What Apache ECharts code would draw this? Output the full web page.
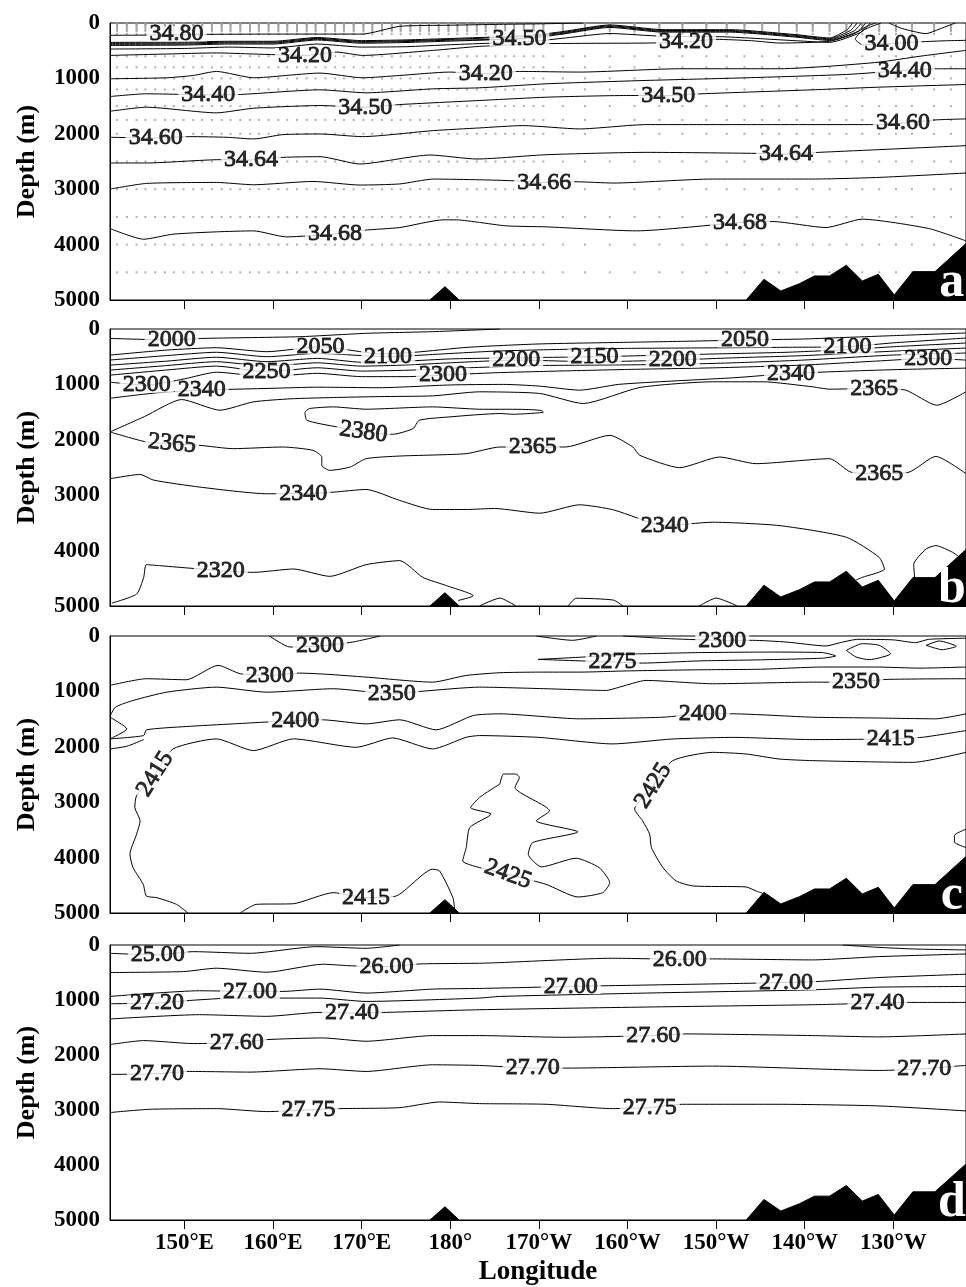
<!DOCTYPE html>
<html><head><meta charset="utf-8">
<script src="https://cdn.jsdelivr.net/npm/echarts@6/dist/echarts.min.js"></script>
<style>html,body{margin:0;padding:0;background:#fff}#c{width:966px;height:1287px}</style>
</head><body><div id="c"></div><script>
// ---------- axes ----------
const LON_MIN = 141.6, LON_MAX = 238.2;
const xTicks = [150,160,170,180,190,200,210,220,230];
const xTickLabels = ['150°E','160°E','170°E','180°','170°W','160°W','150°W','140°W','130°W'];
const depthTicks = [0,1000,2000,3000,4000,5000];
const panelLetters = ['a','b','c','d'];

// ---------- bathymetry (lon, depth) ----------
const bathyMain = [[213.4,5000],[215.4,4626],[217.3,4837],[219.4,4705],[221.1,4566],[222.8,4566],[224.7,4373],[226.5,4656],[228.3,4536],[230.1,4910],[232.2,4488],[234.7,4488],[238.2,3981]];
const bathySeamount = [[177.7,5000],[179.4,4759],[181.0,5000]];

// ---------- station grid (panel a sample dots) ----------
const stationLon = [142.4,143.5,144.6,145.6,146.7,147.8,148.8,149.9,151.0,152.0,153.1,154.2,155.2,156.3,157.4,158.4,159.5,160.6,161.6,162.7,163.8,164.8,165.9,167.0,168.0,169.1,170.2,171.2,172.3,173.4,174.4,175.5,176.6,177.6,178.7,179.8,180.8,181.9,183.0,184.0,185.1,186.2,187.2,188.3,189.4,190.5,192.7,195.2,198.0,200.8,203.6,206.2,208.9,211.2,213.2,215.2,217.1,219.1,220.9,222.8,224.7,226.5,228.4,230.3,232.1,234.6,236.5];
const sampleDepth = [0,10,20,30,50,75,100,125,150,200,600,800,1000,1200,1500,1750,2000,2500,3000,3500,4000,4500];

// ---------- panel a: salinity ----------
const a_3480 = [[141.6,222],[149.1,215],[152.5,205],[161.9,200],[166,200],[170.1,200],[174.3,60],[180,40],[185.6,24],[190,15],[195,0]];
const a_3470 = [[141.6,350],[150,345],[155,330],[160,330],[165,262],[170,318],[175,305],[180,280],[185,252],[189,225],[192.7,155],[198,35],[204,120],[211.5,120],[219,210],[222.8,270],[224.8,120],[225.4,0]];
const a_3460u = [[141.6,367],[150,362],[155,346],[160,346],[165,277],[170,333],[175,320],[180,295],[185,267],[189,240],[192.7,170],[198,50],[204,135],[211.5,135],[219,225],[222.8,285],[225.2,130],[225.9,0]];
const a_3450u = [[141.6,385],[150,380],[155,362],[160,362],[165,292],[170,348],[175,335],[180,310],[187.8,283],[192.7,185],[198,65],[204,150],[211.5,150],[219,240],[222.8,300],[225.6,140],[226.4,0]];
const a_3440u = [[141.6,405],[150,398],[155,380],[160,380],[165,307],[170,365],[175,352],[180,327],[185,302],[189,275],[192.7,200],[198,80],[204,165],[211.5,165],[219,255],[222.8,315],[226,150],[226.9,0]];
const a_3430u = [[141.6,470],[150,460],[155,435],[160,450],[165,380],[170,435],[175,428],[180,392],[185,362],[189,337],[193,270],[198,190],[204,240],[211,250],[219,320],[222.8,350],[226.3,170],[227.4,0]];
const a_3420u = [[141.6,585],[148,560],[153.6,540],[157.8,560],[163.6,585],[167.2,525],[170.1,585],[178.1,494],[183.3,422],[190.9,373],[202.1,362],[206.6,344],[210.0,295],[214,320],[217.2,362],[222.8,330],[225.5,200],[227,60],[228,0]];
const a_3400 = [[228.6,0],[226.6,130],[225.7,290],[226.5,390],[227.8,380],[229.8,373],[233,340],[236,320],[238.2,313]];
const a_extra1 = [[229.5,0],[231,100],[233.7,192],[235.2,110],[236.3,42],[237,0]];
const a_3420l = [[141.6,1007],[148.0,989],[151.0,947],[153.6,874],[157.8,989],[165.3,904],[170.1,989],[174.3,947],[179.9,886],[184.0,916],[187.8,874],[194.6,886],[205.9,826],[217.2,826],[222.8,780],[228.4,706],[233,600],[238.2,494]];
const a_3440l = [[141.6,1327],[145.7,1278],[152.7,1296],[156.3,1290],[165.3,1206],[170.5,1260],[178.1,1188],[183.3,1170],[190.9,1097],[202.1,1037],[213.4,989],[224.7,929],[231.3,856],[234.9,826],[238.2,826]];
const a_3450l = [[141.6,1593],[145.7,1520],[153.6,1622],[157.8,1538],[165.3,1490],[170.4,1520],[174.3,1472],[183.3,1399],[190.9,1339],[199.9,1309],[204.6,1309],[208.3,1278],[220.9,1206],[228.4,1158],[238.2,1110]];
const a_3460l = [[141.6,2063],[146.75,2075],[150.6,2051],[154.8,2063],[157.8,2093],[161.1,2015],[165.3,2003],[170.1,2051],[178.1,1942],[183.3,1894],[188.2,1852],[194.6,1912],[202.1,1834],[213.4,1834],[227.3,1834],[231.1,1808],[234.8,1749],[238.2,1731]];
const a_3464 = [[141.6,2527],[145.7,2527],[154.0,2467],[157.5,2473],[161.1,2425],[165.3,2413],[169.8,2545],[177.7,2383],[183.0,2455],[190.9,2377],[202.1,2335],[214.5,2353],[217.9,2365],[221.6,2335],[228.4,2286],[238.2,2214]];
const a_3466 = [[141.6,2998],[145.7,2896],[153.6,2878],[157.8,2920],[164.5,2860],[169.8,2925],[174.3,2905],[178.1,2817],[183.3,2830],[187.1,2848],[190.6,2878],[194.2,2866],[198.4,2889],[209.6,2817],[220.9,2817],[228.4,2787],[238.2,2708]];
const a_3468 = [[141.6,3710],[145.4,3903],[148.7,3812],[153.6,3770],[157.8,3752],[161.5,3861],[167.0,3806],[170.3,3740],[174.3,3692],[179.2,3553],[180.7,3553],[183.3,3600],[186.3,3662],[190.8,3680],[201.0,3752],[212.7,3602],[216.4,3584],[222.4,3692],[226.5,3541],[234.0,3710],[238.2,3933]];
const a_labels = [['34.80',149.1,200,0],['34.50',187.8,283,0],['34.20',163.6,585,0],['34.20',206.6,344,0],['34.00',229.8,373,0],['34.20',184.0,916,0],['34.40',152.7,1296,0],['34.40',231.3,856,0],['34.50',170.4,1520,0],['34.50',204.6,1309,0],['34.60',146.75,2075,0],['34.60',231.1,1808,0],['34.64',157.5,2473,0],['34.64',217.9,2365,0],['34.66',190.6,2878,0],['34.68',167.0,3806,0],['34.68',212.7,3602,0]];

// ---------- panel b ----------
const b_2000 = [[141.6,170],[148.6,199],[152.1,170],[163,139],[170.5,78],[178,48],[185.6,0]];
const b_2050 = [[141.6,471],[148,380],[153.6,338],[159.3,410],[165.35,320],[168.6,380],[172,450],[176,420],[182,330],[190,270],[200,240],[207,220],[213.27,199],[220,180],[225,150],[230,120],[238.2,72]];
const b_2100 = [[141.6,560],[148,480],[153.6,420],[159.3,500],[165,440],[172.97,501],[178,460],[185,400],[192,370],[200,350],[210,340],[218,330],[224.84,320],[230,250],[238.2,163]];
const b_2150 = [[141.6,652],[148,580],[153.6,510],[159.3,590],[165,530],[170,600],[175,580],[180,540],[187,520],[196.28,501],[202,480],[210,450],[218,420],[225,370],[230,320],[238.2,253]];
const b_2200 = [[141.6,742],[148,660],[153.6,590],[159.3,670],[165,610],[170,670],[175,650],[180,610],[187.45,561],[196,590],[205.11,561],[212,520],[220,480],[225,440],[230,400],[238.2,344]];
const b_2250 = [[141.6,833],[148,740],[153.6,670],[159.27,773],[165,700],[170,760],[176,740],[182,700],[190,660],[198,650],[205,640],[212,610],[220,560],[230,470],[238.2,434]];
const b_2300 = [[141.6,960],[145.74,1014],[150,900],[153.6,780],[159.3,860],[165,800],[170,860],[175,860],[179.18,833],[185,790],[192,760],[200,730],[210,700],[220,650],[228,580],[233.93,531],[238.2,561]];
const b_2340 = [[141.6,1250],[147,1150],[151.94,1104],[155,1090],[160,1070],[165,1050],[172,1060],[180,1010],[186,1000],[190,1030],[194.6,1104],[199,1000],[205,940],[212,880],[218.45,802],[225,760],[231,730],[238.2,706]];
const b_2365u = [[141.6,1859],[145.5,1580],[149.68,1273],[154.0,1466],[157.8,1315],[162,1260],[166.8,1237],[172,1220],[178,1207],[183.3,1134],[190.1,1164],[195,1345],[201.4,1055],[209.6,953],[215.3,953],[220.9,1044],[222.8,1086],[227.85,1074],[231.4,1104],[234.9,1376],[238.2,1134]];
const b_2365l = [[141.6,1859],[145.7,2039],[148.6,2069],[151.75,2100],[155.5,2160],[161.1,2130],[164.5,2190],[165.5,2311],[165.5,2462],[166.4,2552],[168.7,2492],[170.5,2341],[174.3,2293],[181.8,2250],[185.6,2130],[189.3,2130],[193,2130],[198,1919],[200.6,2130],[201.4,2281],[205.9,2503],[210.4,2311],[214.5,2431],[222.8,2341],[225.2,2583],[228.4,2612],[231.8,2583],[234.8,2299],[238.2,2612]];
const b_2380 = [[163.6,1500],[164.1,1436],[166.8,1406],[170.5,1448],[178,1406],[183.3,1448],[188,1450],[190.3,1470],[190.5,1500],[187.1,1539],[185.6,1526],[179.9,1587],[176.5,1647],[175.8,1798],[173.5,1901],[170.2,1859],[167.2,1768],[163.8,1647],[163.6,1500]];
const b_2340d = [[141.6,2703],[145.0,2625],[146.5,2727],[151.75,2854],[159.3,2974],[163.4,2974],[166.8,2945],[170.5,2896],[174.3,3095],[178.0,3258],[181.8,3258],[185,3240],[190.1,3325],[194.6,3173],[198.4,3264],[204.2,3548],[209.6,3488],[217.1,3548],[224.7,3759],[228.4,4121],[229.0,4332],[226.5,4483],[225.8,4530]];
const b_loopR = [[232.4,4490],[232.3,4250],[233.7,3970],[234.8,3910],[236.7,4031],[237.3,4100]];
const b_2320 = [[141.8,4948],[144.6,4785],[145.4,4483],[145.7,4254],[147.2,4272],[154.1,4362],[157.8,4393],[162.3,4332],[166.4,4465],[170.5,4254],[174.3,4181],[176.9,4483],[179.6,4633],[182.6,4815],[180.9,4900]];
const b_bump1 = [[183.3,5000],[185.6,4857],[187.4,5000]];
const b_bump2 = [[193.3,5000],[194.2,4860],[198.4,4893],[199.5,5000]];
const b_bump3 = [[208.1,5000],[210.0,4857],[212.4,5000]];
const b_labels = [['2000',148.56,199,0],['2050',165.35,320,0],['2100',172.97,501,0],['2250',159.27,773,0],['2300',145.74,1014,0],['2340',151.94,1104,0],['2300',179.18,833,0],['2200',187.45,561,0],['2150',196.28,501,0],['2200',205.11,561,0],['2050',213.27,199,0],['2100',224.84,320,0],['2300',233.93,531,0],['2340',218.45,802,0],['2365',227.85,1074,0],['2380',170.2,1859,-8],['2365',148.6,2069,-5],['2365',189.3,2130,0],['2365',228.4,2612,0],['2340',163.4,2974,0],['2340',204.2,3548,0],['2320',154.1,4362,0]];

// ---------- panel c ----------
const c_2300t = [[159.6,0],[161.9,199],[165.3,181],[169.0,109],[172.1,0]];
const c_2300d = [[189.7,0],[193.8,78],[196.5,0]];
const c_2300r = [[199.5,0],[205,50],[210.7,78],[214.1,78],[218,110],[222.4,180],[224,120],[226,60],[230,70],[232.5,120],[234,60],[238.2,40]];
const c_2275 = [[189.9,422],[195,380],[200,330],[208,300],[216,290],[222,300],[223.5,360],[222,400],[215,430],[208,450],[201.7,489],[198.3,470],[189.9,422]];
const c_loop1 = [[224.7,259],[226.5,138],[228.4,168],[229.7,319],[227.3,427],[225.8,380],[224.7,259]];
const c_loop2 = [[233.7,168],[235.2,90],[237.1,186],[235.5,247],[233.7,168]];
const c_2300m = [[141.6,892],[145.7,771],[150.2,790],[153.8,530],[156.3,681],[159.6,712],[163.0,670],[166,690],[170.5,742],[178.0,833],[181.8,712],[185.6,663],[190,652],[194.6,652],[200,630],[208,610],[215,600],[222,560],[228,560],[233,580],[238.2,560]];
const c_2350 = [[141.6,1450],[142.2,1285],[144.2,1164],[148.0,1014],[153.6,923],[159.3,1014],[166.8,952],[173.4,1043],[176.9,996],[183.3,923],[190.8,952],[197.6,983],[199.1,923],[202.1,802],[209.6,862],[220.9,833],[225.8,833],[229.2,784],[238.2,771]];
const c_edge = [[141.6,1466],[143.5,1677],[141.6,1857]];
const c_2400 = [[141.6,1857],[145.4,1797],[145.7,1694],[150.2,1634],[155.5,1586],[162.5,1526],[165.6,1513],[170.5,1586],[174.3,1513],[178.4,1694],[182.6,1435],[185.6,1405],[194.6,1495],[204.0,1466],[208.5,1405],[211.9,1405],[220.9,1466],[228,1480],[234.8,1495],[238.2,1405]];
const c_2415a = [[141.6,2039],[143.5,1990],[145.4,1870]];
const c_2415 = [[238.2,1707],[233.3,1828],[229.7,1857],[220.9,1870],[212,1830],[205,1860],[198.3,1948],[190,1830],[183.3,1797],[181.8,1828],[178.0,2039],[173.5,1840],[169.4,2009],[162.3,1857],[157.8,2069],[153.6,1857],[148.7,2039],[146.7,2491],[144.6,2883],[144.4,3095],[145.0,3336],[144.6,3577],[143.85,3939],[144.2,4181],[145.35,4482],[145.7,4693],[146.9,4724],[149.1,4844],[150.4,5000]];
const c_2415b = [[156.3,5000],[158.1,4844],[162.3,4832],[166.8,4633],[170.5,4724],[173.9,4693],[178.0,4210],[178.8,4241],[180.3,4724],[180.5,4934]];
const c_2425blob = [[185.6,2672],[186.0,2491],[187.4,2491],[187.8,2552],[187.3,2733],[191.2,3155],[189.7,3336],[194.4,3535],[189.3,3728],[188.8,3939],[190.3,4168],[194.2,4011],[196.8,4181],[198.0,4453],[197.2,4633],[194.4,4711],[190.8,4482],[186.5,4301],[183.3,4181],[181.4,4060],[181.8,3819],[182.2,3457],[184.6,3215],[182.3,3100],[183.3,2914],[185.6,2672]];
const c_2425r = [[238.2,2100],[232.2,2281],[220.9,2250],[217.1,2220],[213.4,2130],[209.6,2100],[205.1,2250],[202.9,2702],[200.8,3124],[201.7,3336],[202.5,3577],[202.7,3819],[204.0,4181],[205.5,4422],[207.4,4512],[213.4,4530],[214.5,4602],[215.2,4640]];
const c_2425s = [[238.2,3487],[236.9,3600],[236.9,3720],[238.2,3819]];
const c_labels = [['2300',165.3,181,0],['2300',210.7,78,0],['2275',198.3,470,0],['2300',159.64,711,0],['2350',173.4,1043,0],['2350',225.8,833,0],['2400',162.5,1526,0],['2400',208.5,1405,0],['2415',229.7,1857,0],['2415',146.7,2491,58],['2415',170.5,4724,0],['2425',202.9,2702,58],['2425',186.5,4301,-20]];

// ---------- panel d ----------
const d_2500 = [[141.6,151],[147.0,181],[151.0,121],[157.4,151],[164.9,30],[170.5,60],[174.3,0]];
const d_2500r = [[224.3,0],[228,40],[232.2,72],[238.2,90]];
const d_2600 = [[141.6,501],[149.9,483],[153.6,422],[159.3,495],[165.6,350],[169.0,380],[172.8,392],[176.6,344],[183.3,332],[185.6,320],[198.3,241],[205.9,259],[209.6,253],[220.9,271],[228.4,211],[238.2,163]];
const d_2700 = [[141.6,935],[151.7,832],[157.4,844],[161.1,844],[165.3,802],[170.5,874],[178.0,802],[183.3,790],[193.6,754],[197.2,742],[212.6,699],[217.9,681],[221.6,663],[228.4,591],[238.2,531]];
const d_2720 = [[141.6,1068],[146.9,1056],[150.6,1008],[155.5,965],[165.3,965],[170.5,1026],[183.3,965],[185.6,935],[202.1,874],[220.9,815],[228.4,766],[238.2,754]];
const d_2740 = [[141.6,1345],[151.7,1267],[159.3,1297],[165.3,1225],[168.9,1237],[172.8,1225],[183.3,1177],[202.1,1128],[220.9,1086],[228.2,1056],[231.8,1044],[238.2,1044]];
const d_2760 = [[141.6,1810],[145.4,1738],[151.0,1792],[155.9,1780],[159.3,1720],[165.6,1690],[170.5,1750],[178.0,1647],[183.3,1647],[192.7,1678],[202.9,1647],[206.6,1617],[220.9,1647],[228.4,1671],[238.2,1617]];
const d_2770 = [[141.6,2353],[146.9,2341],[150.6,2299],[157.4,2311],[165.3,2250],[170.5,2299],[178.0,2178],[183.3,2190],[189.3,2238],[193.1,2238],[209.6,2202],[228.4,2281],[233.5,2250],[237.1,2202],[238.2,2190]];
const d_2775 = [[141.6,3046],[146.1,2987],[153.6,2975],[159.3,3029],[164.0,2999],[167.5,2975],[174.3,2957],[178.8,2854],[183.3,2884],[190.8,2896],[198.3,2975],[202.5,2957],[206.2,2896],[217.1,2896],[228.4,2926],[238.2,3017]];
const d_labels = [['25.00',147.0,181,0],['26.00',172.8,392,0],['26.00',205.9,259,0],['27.00',157.4,844,0],['27.00',193.6,754,0],['27.00',217.9,681,0],['27.20',146.9,1056,0],['27.40',168.9,1237,0],['27.40',228.2,1056,0],['27.60',155.9,1780,0],['27.60',202.9,1647,0],['27.70',146.9,2341,0],['27.70',189.3,2238,0],['27.70',233.5,2250,0],['27.75',164.0,2999,0],['27.75',202.5,2957,0]];

const panelContours = [
  [a_3480,a_3470,a_3460u,a_3450u,a_3440u,a_3430u,a_3420u,a_3400,a_extra1,a_3420l,a_3440l,a_3450l,a_3460l,a_3464,a_3466,a_3468],
  [b_2000,b_2050,b_2100,b_2150,b_2200,b_2250,b_2300,b_2340,b_2365u,b_2365l,b_2380,b_2340d,b_loopR,b_2320,b_bump1,b_bump2,b_bump3],
  [c_2300t,c_2300d,c_2300r,c_2275,c_loop1,c_loop2,c_2300m,c_2350,c_edge,c_2400,c_2415a,c_2415,c_2415b,c_2425blob,c_2425r,c_2425s],
  [d_2500,d_2500r,d_2600,d_2700,d_2720,d_2740,d_2760,d_2770,d_2775]
];
const panelLabels = [a_labels,b_labels,c_labels,d_labels];

// ---------- layout ----------
const GRID_TOP = [23,329,636,945];
const GRID_H = 277;
const SERIF = '"Liberation Serif","Times New Roman",serif';

const grids = [], xAxes = [], yAxes = [], series = [];
for (let p = 0; p < 4; p++) {
  grids.push({left:110, width:856, top:GRID_TOP[p], height:GRID_H, show:true, borderColor:'#000', borderWidth:1, backgroundColor:'transparent'});
  const last = p === 3;
  xAxes.push({
    gridIndex:p, type:'value', min:LON_MIN, max:LON_MAX,
    axisLine:{show:true, onZero:false, lineStyle:{color:'#000', width:1}},
    axisTick:{show:true, customValues:xTicks, length:9, inside:false, lineStyle:{color:'#000', width:1}},
    axisLabel:{show:last, customValues:xTicks, margin:12, color:'#000', fontFamily:SERIF, fontWeight:'bold', fontSize:23,
      formatter:v => { const i = xTicks.indexOf(Math.round(v)); return i >= 0 ? xTickLabels[i] : ''; }},
    splitLine:{show:false},
    name: last ? 'Longitude' : '', nameLocation:'middle', nameGap:39,
    nameTextStyle:{color:'#000', fontFamily:SERIF, fontWeight:'bold', fontSize:27}
  });
  yAxes.push({
    gridIndex:p, type:'value', inverse:true, min:0, max:5000, interval:1000,
    axisLine:{show:true, lineStyle:{color:'#000', width:1}},
    axisTick:{show:false},
    axisLabel:{margin:10, color:'#000', fontFamily:SERIF, fontWeight:'bold', fontSize:23, formatter:v => String(v)},
    splitLine:{show:false},
    name:'Depth (m)', nameLocation:'middle', nameGap:70,
    nameTextStyle:{color:'#000', fontFamily:SERIF, fontWeight:'bold', fontSize:26}
  });

  if (p === 0) {
    const dots = [];
    for (const lon of stationLon) for (const d of sampleDepth) dots.push([lon, d]);
    series.push({type:'scatter', xAxisIndex:0, yAxisIndex:0, data:dots, symbol:'rect', symbolSize:2,
      itemStyle:{color:'#9a9a9a'}, silent:true, z:1});
  }
  panelContours[p].forEach(line => {
    series.push({type:'line', xAxisIndex:p, yAxisIndex:p, data:line, showSymbol:false, symbol:'none', smooth:0.2,
      lineStyle:{color:'#000', width:1}, silent:true, z:3, clip:true});
  });
  series.push({type:'scatter', xAxisIndex:p, yAxisIndex:p, z:8, silent:true, symbolSize:1,
    itemStyle:{color:'rgba(0,0,0,0)'},
    data: panelLabels[p].map(l => ({name:l[0], value:[l[1], l[2]], label:{rotate:l[3]}})),
    label:{show:true, position:'inside', formatter:'{b}', color:'#000', fontFamily:SERIF, fontSize:24,
      textBorderColor:'#000', textBorderWidth:0.9,
      backgroundColor:'#fff', padding:[0,3], lineHeight:15}
  });
  [bathyMain, bathySeamount].forEach(b => {
    series.push({type:'line', xAxisIndex:p, yAxisIndex:p, data:b, showSymbol:false, symbol:'none',
      lineStyle:{color:'#000', width:1}, areaStyle:{color:'#000', opacity:1, origin:'end'}, silent:true, z:10});
  });
  series.push({type:'scatter', xAxisIndex:p, yAxisIndex:p, z:12, silent:true, symbolSize:1,
    itemStyle:{color:'rgba(0,0,0,0)'},
    data:[{name:panelLetters[p], value:[236.6, 4690]}],
    label:{show:true, position:'inside', formatter:'{b}', color:'#ffffff', textBorderWidth:0, opacity:1,
      fontFamily:SERIF, fontWeight:'bold', fontSize:50}
  });
}

const chart = echarts.init(document.getElementById('c'), null, {renderer:'canvas'});
chart.setOption({animation:false, backgroundColor:'#fff', grid:grids, xAxis:xAxes, yAxis:yAxes, series:series});
</script></body></html>
